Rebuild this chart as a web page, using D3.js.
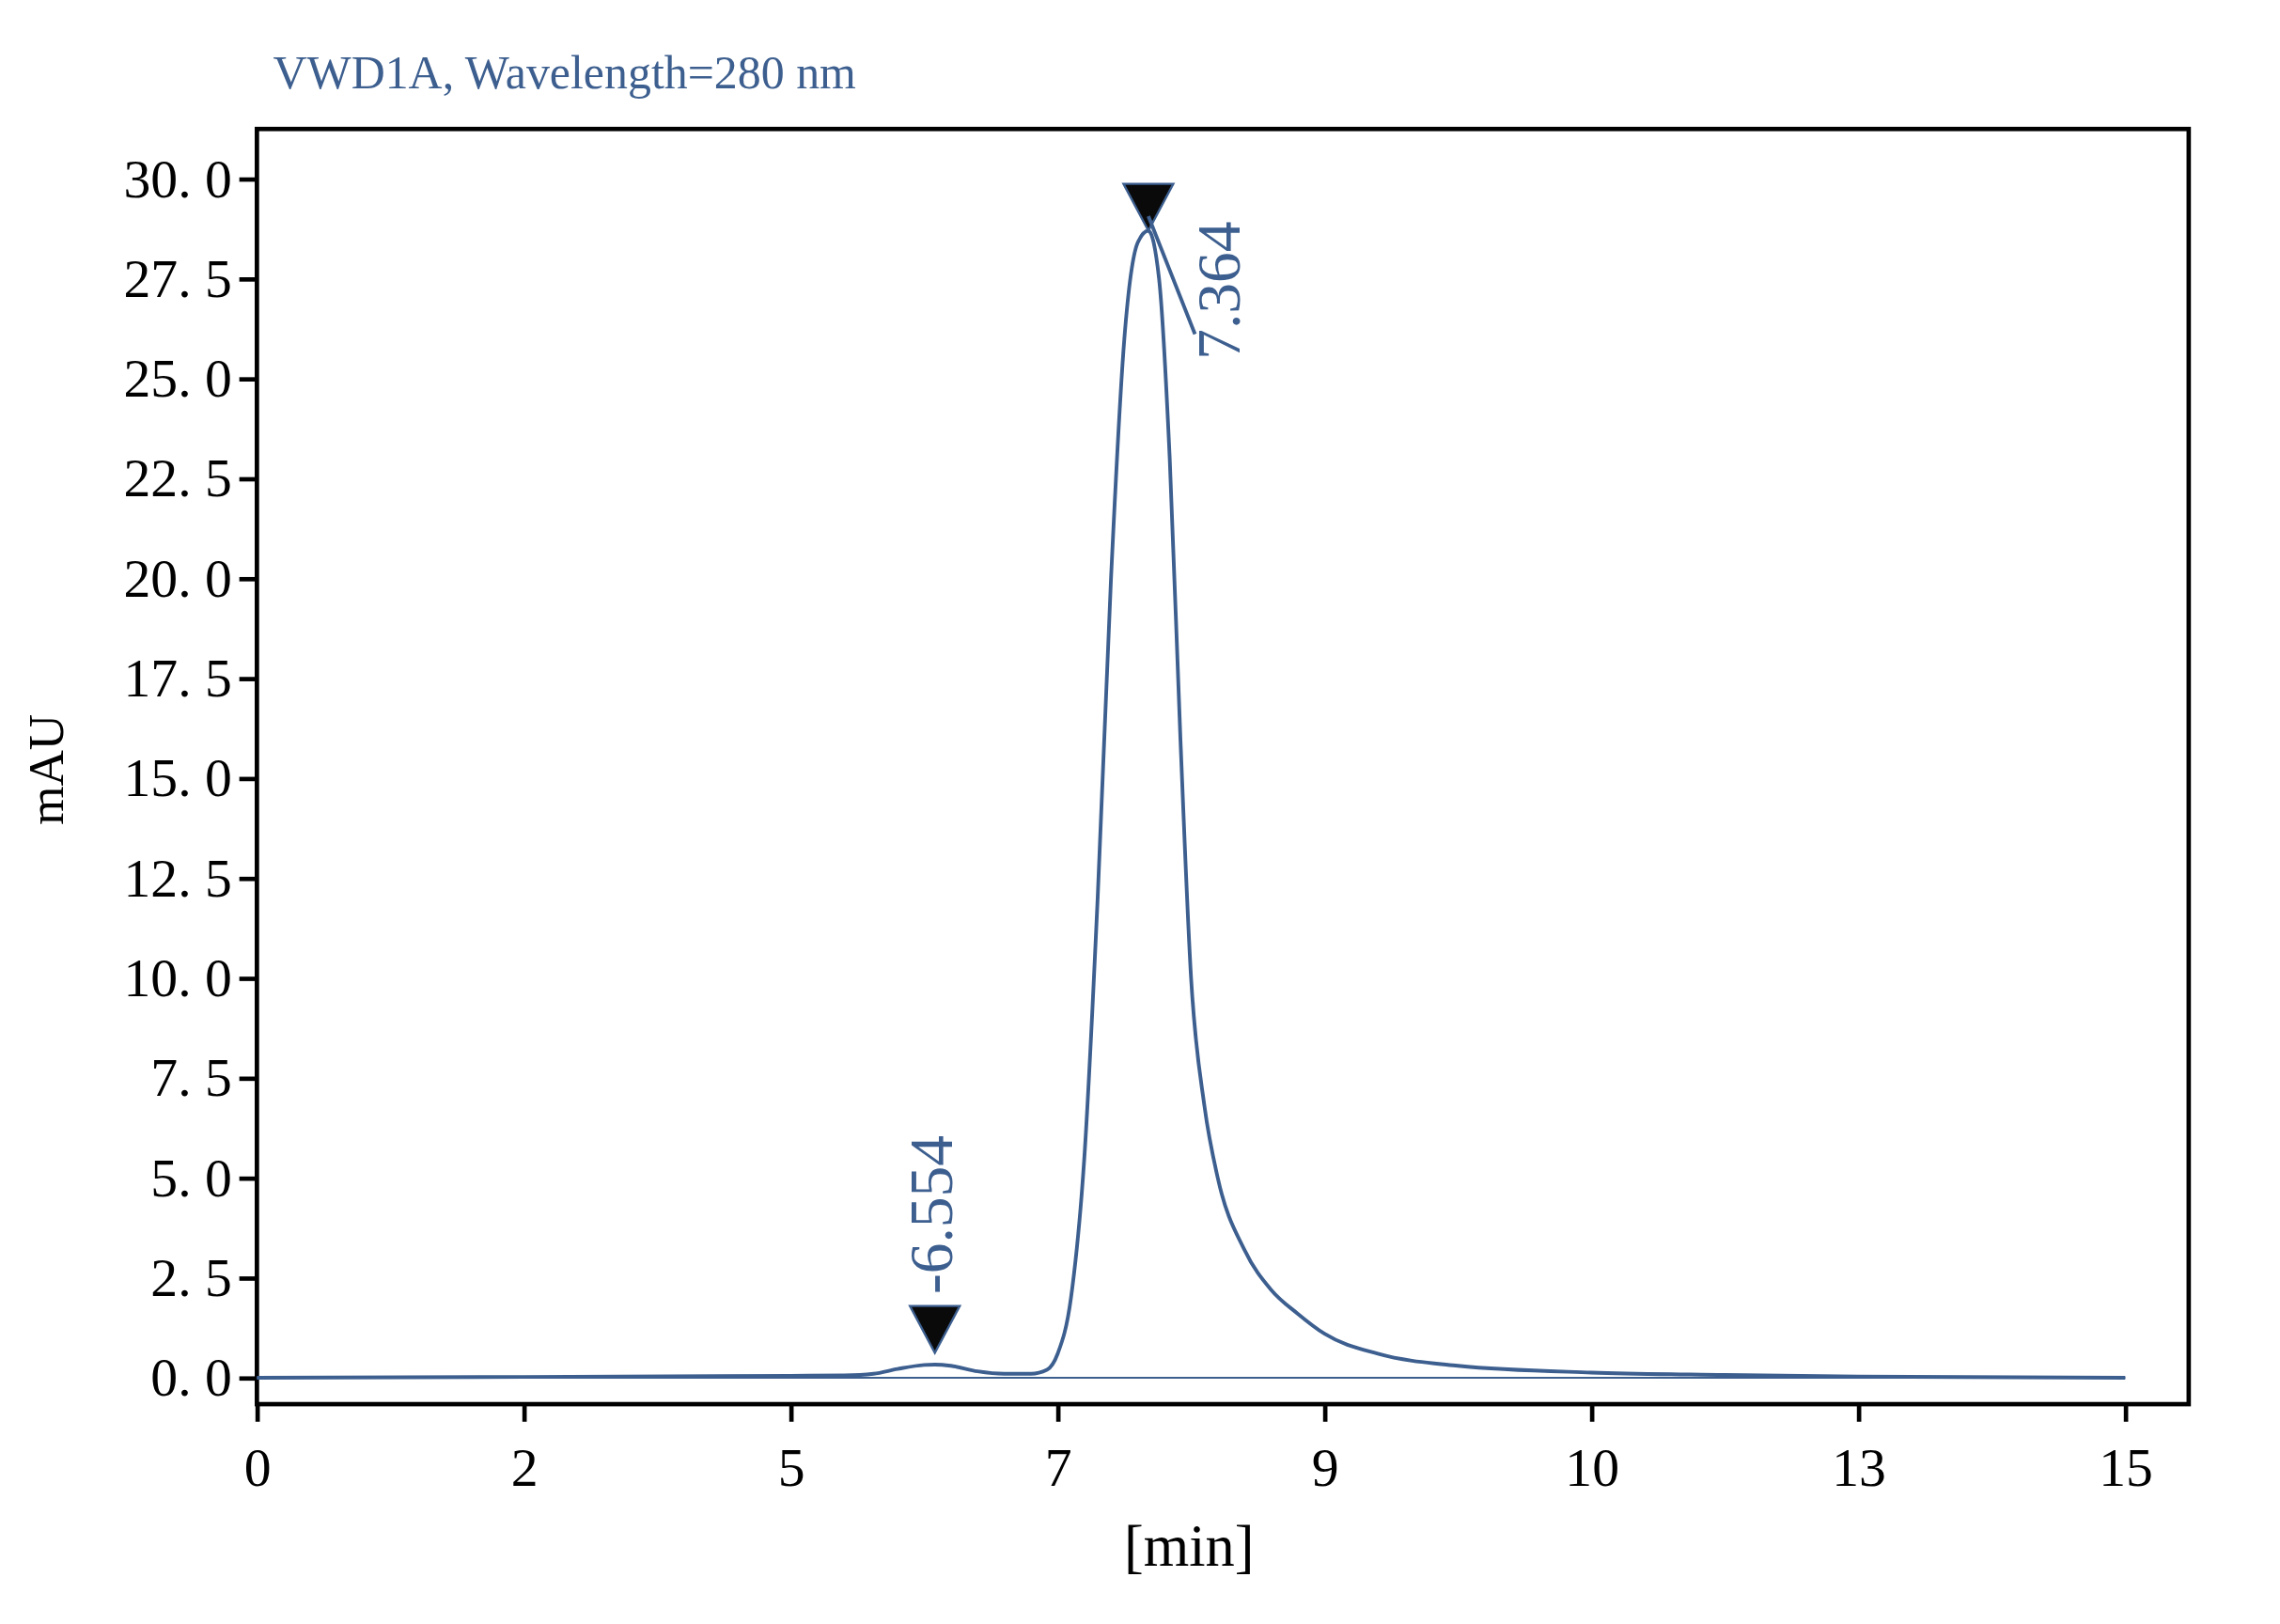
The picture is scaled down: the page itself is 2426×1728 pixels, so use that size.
<!DOCTYPE html>
<html><head><meta charset="utf-8">
<script src="https://cdn.jsdelivr.net/npm/d3@7"></script>
<style>body{margin:0;background:#fff}</style></head>
<body><svg id="c"></svg>
<script>
// x positions are in tick-slot units (the axis labels are not evenly valued)
const tickLabels = ["0", "2", "5", "7", "9", "10", "13", "15"];
const yTicks = [0, 2.5, 5, 7.5, 10, 12.5, 15, 17.5, 20, 22.5, 25, 27.5, 30];
const xs = [0, 1, 2, 2.2, 2.31, 2.4, 2.5, 2.54, 2.6, 2.7, 2.8, 2.9, 2.96, 3.0, 3.05, 3.1, 3.15, 3.2, 3.25, 3.3, 3.34, 3.38, 3.42, 3.46, 3.5, 3.55, 3.6, 3.7, 3.8, 3.9, 4.0, 4.2, 4.5, 5.0, 5.5, 6.0, 7.0];
const ys = [0, 0.02, 0.05, 0.06, 0.1, 0.22, 0.32, 0.33, 0.3, 0.16, 0.1, 0.1, 0.2, 0.6, 2.0, 5.5, 12, 20, 26, 28.4, 28.7, 27.5, 23, 16, 10, 6.8, 5.0, 3.2, 2.2, 1.6, 1.1, 0.6, 0.3, 0.13, 0.07, 0.03, 0.0];
const peaks = [{x: 2.54, y: 0.33, label: "-6.554"}, {x: 3.34, y: 28.7, label: "7.364"}];

const svg = d3.select("#c").attr("width", 2426).attr("height", 1728).attr("viewBox", "0 0 1555 1108");
const L = 175, R = 1493, T = 88, B = 958;
const x = d3.scaleLinear().domain([0, 7]).range([L, L + 182.1 * 7]);
const y = d3.scaleLinear().domain([0, 30]).range([940, 122]);
const blue = "#3d5f8f";
const font = "'Liberation Serif', 'DejaVu Serif', serif";

svg.append("rect").attr("x", L).attr("y", T).attr("width", R - L).attr("height", B - T)
  .attr("fill", "none").attr("stroke", "#000").attr("stroke-width", 3);

const xAxis = svg.append("g").attr("transform", `translate(0,${B})`)
  .call(d3.axisBottom(x).tickValues(d3.range(8)).tickFormat(i => tickLabels[i]).tickSize(12).tickSizeOuter(0));
const yAxis = svg.append("g").attr("transform", `translate(${L},0)`)
  .call(d3.axisLeft(y).tickValues(yTicks).tickFormat(d3.format(".1f")).tickSize(12).tickSizeOuter(0));
[xAxis, yAxis].forEach(g => {
  g.select(".domain").remove();
  g.selectAll("line").attr("stroke", "#000").attr("stroke-width", 3);
  g.selectAll("text").attr("font-family", font).attr("font-size", 37).attr("fill", "#000");
});
yAxis.selectAll("text").text(d => d3.format(".1f")(d).replace(".", ". ")).attr("dx", -2);
xAxis.selectAll("text").attr("dy", "1.1em");

// baseline
svg.append("line").attr("x1", x(0)).attr("x2", x(7)).attr("y1", y(0)).attr("y2", y(0))
  .attr("stroke", blue).attr("stroke-width", 1.2);

const pts = xs.map((v, i) => [v, ys[i]]);
svg.append("path").datum(pts).attr("fill", "none").attr("stroke", blue).attr("stroke-width", 2.5)
  .attr("d", d3.line().x(d => x(d[0])).y(d => y(d[1])).curve(d3.curveMonotoneX));

// peak markers
peaks.forEach((p, i) => {
  const px = x(p.x), py = y(p.y) - (i === 0 ? 8 : 0);
  svg.append("path").attr("d", `M${px - 17},${py - 32} L${px + 17},${py - 32} L${px},${py} Z`)
    .attr("fill", "#0a0a0a").attr("stroke", blue).attr("stroke-width", 1.5);
  const lx = i === 0 ? px + 12 : px + 62, ly = i === 0 ? py - 40 : py + 88;
  svg.append("text").attr("transform", `translate(${lx},${ly}) rotate(-90)`)
    .attr("font-family", font).attr("font-size", 42).attr("fill", blue).text(p.label);
});
svg.append("line").attr("x1", x(3.34)).attr("y1", y(28.7) - 10).attr("x2", 815).attr("y2", 228)
  .attr("stroke", blue).attr("stroke-width", 2.5);

svg.append("text").attr("x", 186).attr("y", 60).attr("font-family", font).attr("font-size", 32)
  .attr("fill", blue).text("VWD1A, Wavelength=280 nm");
svg.append("text").attr("transform", "translate(43,525) rotate(-90)").attr("text-anchor", "middle")
  .attr("font-family", font).attr("font-size", 34).text("mAU");
svg.append("text").attr("x", 811).attr("y", 1068).attr("text-anchor", "middle")
  .attr("font-family", font).attr("font-size", 40).text("[min]");
</script></body></html>
